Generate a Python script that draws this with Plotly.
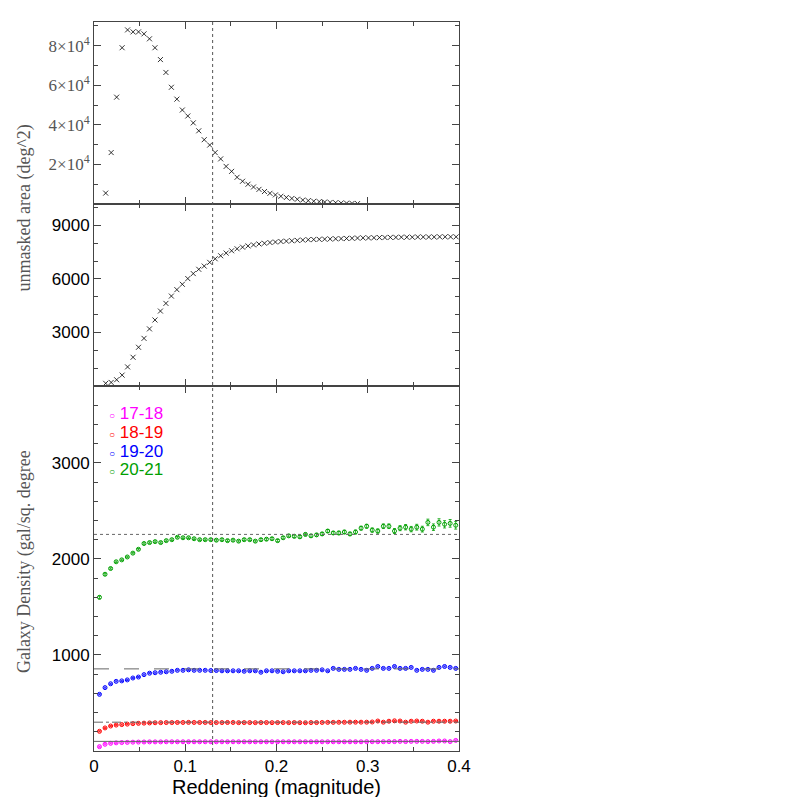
import numpy as np
import plotly.graph_objects as go
from plotly.subplots import make_subplots

# --- data ---
x_top = [round(0.0128 + 0.006 * i, 4) for i in range(47)]
area_top = [5500, 26000, 54000, 79000, 88000, 87000, 87000, 86000, 83500, 79000,
            73000, 66500, 59000, 53000, 47500, 44500, 41000, 37000, 32500, 29800,
            26000, 22800, 19000, 16500, 13500, 11500, 10000, 8600, 7400, 6300,
            5400, 4600, 3900, 3300, 2800, 2400, 2000, 1700, 1400, 1200,
            1000, 800, 650, 500, 400, 300, 200]

area_mid = [150, 200, 350, 610, 1070, 1610, 2170, 2670, 3200, 3700,
            4200, 4630, 5040, 5400, 5700, 6020, 6300, 6540, 6720, 6930,
            7130, 7300, 7450, 7580, 7690, 7780, 7850, 7910, 7960, 8000,
            8040, 8070, 8100, 8120, 8140, 8160, 8180, 8200, 8210, 8220,
            8230, 8240, 8250, 8260, 8270, 8280, 8290, 8300, 8300, 8310,
            8320, 8320, 8330, 8330, 8340, 8340, 8340, 8350, 8350, 8350,
            8350, 8360, 8360, 8360, 8360]
x_mid = [round(0.0128 + 0.006 * i, 4) for i in range(len(area_mid))]

green = [1600, 1840, 1900, 1970, 1990, 2020, 2060, 2100, 2160, 2170,
         2180, 2170, 2190, 2200, 2225, 2220, 2220, 2210, 2200, 2200,
         2200, 2195, 2200, 2190, 2195, 2185, 2200, 2200, 2185, 2200,
         2205, 2210, 2190, 2220, 2240, 2235, 2230, 2255, 2240, 2250,
         2260, 2290, 2270, 2270, 2280, 2260, 2280, 2320, 2340, 2300,
         2290, 2340, 2340, 2290, 2320, 2330, 2310, 2330, 2310, 2380,
         2330, 2380, 2360, 2370, 2350]
green_err = [15, 10, 8, 8, 8, 8, 8, 8, 8, 8,
             8, 8, 8, 8, 8, 8, 8, 8, 8, 8,
             10, 10, 10, 10, 10, 10, 10, 10, 10, 12,
             12, 12, 12, 12, 12, 14, 14, 14, 14, 14,
             16, 16, 16, 18, 18, 18, 20, 20, 20, 22,
             22, 24, 24, 26, 26, 28, 28, 30, 30, 34,
             34, 38, 38, 40, 40]
blue = [590, 660, 700, 725, 730, 740, 760, 770, 795, 810,
        815, 820, 825, 830, 840, 840, 845, 840, 840, 840,
        838, 838, 835, 835, 835, 835, 830, 835, 835, 820,
        835, 835, 830, 825, 835, 835, 835, 835, 840, 840,
        845, 835, 860, 850, 850, 850, 860, 850, 840, 860,
        880, 860, 860, 880, 860, 860, 870, 840, 850, 850,
        840, 870, 880, 870, 860]
red = [205, 240, 260, 270, 275, 280, 285, 288, 290, 292,
       294, 295, 296, 296, 297, 297, 298, 297, 297, 297,
       296, 296, 296, 297, 297, 295, 296, 296, 295, 296,
       296, 295, 296, 296, 295, 296, 295, 294, 296, 296,
       297, 298, 298, 299, 299, 300, 300, 300, 300, 302,
       312, 300, 310, 314, 312, 300, 310, 312, 310, 300,
       310, 310, 310, 310, 312]
magenta = [45, 70, 80, 85, 88, 90, 92, 93, 94, 95,
           95, 95, 96, 96, 96, 96, 96, 96, 96, 96,
           96, 96, 96, 96, 96, 96, 96, 96, 96, 96,
           96, 96, 96, 96, 96, 96, 96, 96, 96, 96,
           96, 96, 96, 96, 96, 96, 96, 96, 97, 97,
           97, 97, 98, 98, 100, 98, 100, 100, 100, 98,
           100, 104, 104, 98, 110]
x_bot = [round(0.006 + 0.0061 * i, 4) for i in range(len(green))]

bins = ['17-18', '18-19', '19-20', '20-21']
bin_colors = ['#ff00ff', '#ff0000', '#0000ff', '#00a000']
bin_values = [magenta, red, blue, green]
ref_levels = [100, 300, 855, 2255]
ref_dash = ['solid', 'dashdot', 'longdash', 'dot']
e_cut = 0.13

fig = make_subplots(rows=3, cols=1, shared_xaxes=True, vertical_spacing=0,
                    row_heights=[182, 182, 365])

xmark = dict(symbol='x-thin', size=5, color='black', line=dict(width=0.8, color='black'))
fig.add_trace(go.Scatter(x=x_top, y=area_top, mode='markers', showlegend=False,
                         marker=xmark), row=1, col=1)
fig.add_trace(go.Scatter(x=x_mid, y=area_mid, mode='markers', showlegend=False,
                         marker=xmark), row=2, col=1)

for name, col, vals in zip(bins, bin_colors, bin_values):
    err = green_err if name == '20-21' else [6] * len(vals)
    fig.add_trace(go.Scatter(x=x_bot, y=vals, mode='markers', name=name,
                             showlegend=False,
                             marker=dict(symbol='circle-open', size=4, color=col,
                                         line=dict(width=1)),
                             error_y=dict(type='data', array=err, color=col,
                                          thickness=0.8, width=1.5)),
                  row=3, col=1)

for lvl, dash in zip(ref_levels, ref_dash):
    fig.add_shape(type='line', xref='x3', yref='y3', x0=0, x1=0.4, y0=lvl, y1=lvl,
                  line=dict(color='#666', width=1, dash=dash))

fig.add_shape(type='line', xref='x', yref='paper', x0=e_cut, x1=e_cut, y0=0, y1=1,
              line=dict(color='#555', width=1, dash='dot'))

# legend drawn as text, colored like the reference
for i, (name, col) in enumerate(zip(bins, bin_colors)):
    y_px = 405 + i * 19
    fig.add_annotation(text="<span style='font-size:10px'>○</span> " + name,
                       xref='paper', yref='paper', x=0.035,
                       y=(743 - y_px) / 729, xanchor='left', yanchor='middle',
                       showarrow=False, font=dict(size=17, color=col))

axis_common = dict(showline=True, linecolor='#444', linewidth=1, mirror='ticks',
                   ticks='inside', ticklen=7, tickcolor='#444', showgrid=False,
                   zeroline=False, automargin=False,
                   minor=dict(ticks='inside', ticklen=4, tickcolor='#444'))
for r in (1, 2, 3):
    fig.update_xaxes(range=[0, 0.4], tickvals=[0, 0.1, 0.2, 0.3, 0.4], row=r, col=1,
                     minor_dtick=0.05, **axis_common)
fig.update_xaxes(ticktext=['0', '0.1', '0.2', '0.3', '0.4'], row=3, col=1,
                 title=dict(text='Reddening (magnitude)', standoff=0),
                 tickfont=dict(size=17))

fig.update_yaxes(range=[0, 92000], tickvals=[20000, 40000, 60000, 80000],
                 ticktext=['2×10<sup>4</sup>', '4×10<sup>4</sup>',
                           '6×10<sup>4</sup>', '8×10<sup>4</sup>'],
                 minor_dtick=10000,
                 tickfont=dict(family='Liberation Serif', size=17, color='#555'),
                 row=1, col=1, **axis_common)
fig.update_yaxes(range=[0, 10200], tickvals=[3000, 6000, 9000], minor_dtick=1000,
                 tickfont=dict(size=17), row=2, col=1, **axis_common)
fig.update_yaxes(range=[0, 3800], tickvals=[1000, 2000, 3000], minor_dtick=200,
                 tickfont=dict(size=17), row=3, col=1, **axis_common)

fig.add_annotation(text='unmasked area (deg^2)', xref='paper', yref='paper',
                   x=-0.19, y=0.745, xanchor='center', yanchor='middle',
                   textangle=-90, showarrow=False,
                   font=dict(family='Liberation Serif', size=18, color='#555'))
fig.add_annotation(text='Galaxy Density (gal/sq. degree', xref='paper', yref='paper',
                   x=-0.19, y=0.26, xanchor='center', yanchor='middle',
                   textangle=-90, showarrow=False,
                   font=dict(family='Liberation Serif', size=18, color='#555'))

fig.update_layout(
    width=797, height=797,
    margin=dict(l=86, r=346, t=14, b=54, autoexpand=False),
    paper_bgcolor='white', plot_bgcolor='white',
    font=dict(family='Liberation Sans', size=17, color='black'),
)

fig.write_html("out.html")
